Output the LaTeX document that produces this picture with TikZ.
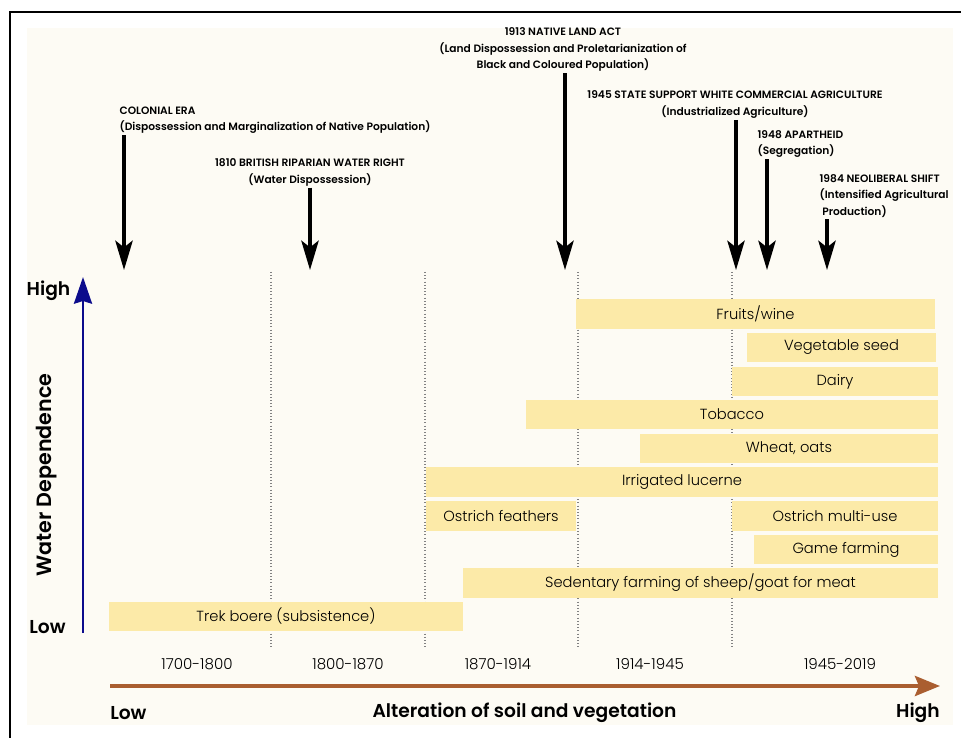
\documentclass[tikz,border=0pt]{standalone}
\usepackage{fontspec}
\setmainfont{Poppins}
\newfontfamily\lightfont{Poppins Light}
\newfontfamily\semifont{Poppins SemiBold}
\usetikzlibrary{arrows.meta}
\definecolor{paper}{RGB}{253,251,244}
\definecolor{barfill}{RGB}{252,234,168}
\definecolor{axisblue}{RGB}{12,12,140}
\definecolor{axisbrown}{RGB}{170,94,48}
\definecolor{gridgray}{RGB}{130,130,130}

\begin{document}
\begin{tikzpicture}[x=0.75pt, y=-0.75pt,
  bar/.style={fill=barfill, inner sep=0pt, outer sep=0pt, minimum height=22pt, font=\lightfont\fontsize{11}{13}\selectfont},
  event/.style={inner sep=1pt, font=\semifont\fontsize{8}{12.4}\selectfont},
  eventarrow/.style={line width=2.6pt, -{Stealth[length=22pt, width=13pt, inset=5pt]}},
  period/.style={inner sep=0pt, font=\lightfont\fontsize{11.3}{13}\selectfont},
  axislabel/.style={inner sep=0pt, font=\semifont\fontsize{14}{16}\selectfont},
  divider/.style={gridgray, line width=0.8pt, dash pattern=on 0.8pt off 1.6pt}]

  \useasboundingbox (0,0) rectangle (961,738);

  % paper and frame
  \fill[paper] (27,28) rectangle (953,725);
  \draw[line width=2pt] (10,738) -- (10,12) -- (961,12);

  % period dividers
  \foreach \x in {271,425,578,732}
    \draw[divider] (\x,272) -- (\x,647);

  % events
  \node[event, anchor=west, align=left] (colonial) at (118,120) {COLONIAL ERA\\(Dispossession and Marginalization of Native Population)};
  \node[event, align=center] (riparian) at (310,172.5) {1810 BRITISH RIPARIAN WATER RIGHT\\(Water Dispossession)};
  \node[event, align=center] (landact) at (563,49.5) {1913 NATIVE LAND ACT\\(Land Dispossession and Proletarianization of\\Black and Coloured Population)};
  \node[event, align=center] (statesupport) at (735,104.5) {1945 STATE SUPPORT WHITE COMMERCIAL AGRICULTURE\\(Industrialized Agriculture)};
  \node[event, anchor=west, align=left] (apartheid) at (756,144) {1948 APARTHEID\\(Segregation)};
  \node[event, anchor=west, align=left] (neoliberal) at (818,196) {1984 NEOLIBERAL SHIFT\\(Intensified Agricultural\\\hspace*{2pt}Production)};

  \coordinate (colonialtip) at (124,270);
  \coordinate (ripariantip) at (310,270);
  \coordinate (landacttip) at (565,270);
  \coordinate (statesupporttip) at (736,270);
  \coordinate (apartheidtip) at (767,270);
  \coordinate (neoliberaltip) at (827,270);

  \draw[eventarrow] (colonialtip |- colonial.south) -- (colonialtip);
  \draw[eventarrow] (ripariantip |- riparian.south) -- (ripariantip);
  \draw[eventarrow] (landacttip |- landact.south) -- (landacttip);
  \draw[eventarrow] (statesupporttip |- statesupport.south) -- (statesupporttip);
  \draw[eventarrow] (apartheidtip |- apartheid.south) -- (apartheidtip);
  \draw[eventarrow] (neoliberaltip |- neoliberal.south) -- (neoliberaltip);

  % land uses
  \node[bar, minimum width=269.25pt] (fruits) at (755.5,314) {Fruits/wine};
  \node[bar, minimum width=141.75pt] (vegseed) at (841.5,347.5) {Vegetable seed};
  \node[bar, minimum width=154.5pt] (dairy) at (835,381.5) {Dairy};
  \node[bar, minimum width=309pt] (tobacco) at (732,414.5) {Tobacco};
  \node[bar, minimum width=223.5pt] (wheat) at (789,448.5) {Wheat, oats};
  \node[bar, minimum width=384pt] (lucerne) at (682,482) {Irrigated lucerne};
  \node[bar, minimum width=112.5pt] (feathers) at (501,516) {Ostrich feathers};
  \node[bar, minimum width=154.5pt] (multiuse) at (835,516) {Ostrich multi-use};
  \node[bar, minimum width=138pt] (game) at (846,549.5) {Game farming};
  \node[bar, minimum width=356.25pt] (sedentary) at (700.5,583) {Sedentary farming of sheep/goat for meat};
  \node[bar, minimum width=265.5pt] (trekboere) at (286,616.5) {Trek boere (subsistence)};

  % periods
  \node[period] (p1700) at (197,664) {1700-1800};
  \node[period] (p1800) at (348,664) {1800-1870};
  \node[period] (p1870) at (498,664) {1870-1914};
  \node[period] (p1914) at (650,664) {1914-1945};
  \node[period] (p1945) at (840,664) {1945-2019};

  % water dependence axis
  \coordinate (ylow) at (83,633);
  \coordinate (yhigh) at (83,277);
  \draw[axisblue, line width=2pt, -{Stealth[length=20pt, width=13.5pt, inset=2pt]}] (ylow) -- (yhigh);
  \node[axislabel] (yhighlabel) at (48.5,291) {High};
  \node[axislabel] (ylowlabel) at (47.5,627) {Low};
  \node[axislabel, rotate=90, font=\semifont\fontsize{15.5}{18}\selectfont] (ytitle) at (47,475) {Water Dependence};

  % alteration axis
  \coordinate (xlow) at (110,686);
  \coordinate (xhigh) at (940,686);
  \draw[axisbrown, line width=3pt, -{Stealth[length=18.75pt, width=15pt, inset=3pt]}] (xlow) -- (xhigh);
  \node[axislabel, anchor=west] (xlowlabel) at (110,713) {Low};
  \node[axislabel] (xtitle) at (524.5,713) {Alteration of soil and vegetation};
  \node[axislabel, anchor=east] (xhighlabel) at (940,713) {High};
\end{tikzpicture}
\end{document}
